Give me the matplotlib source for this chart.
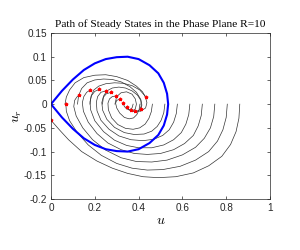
import matplotlib
matplotlib.use('Agg')
import matplotlib.pyplot as plt

plt.rcParams['mathtext.fontset'] = 'cm'

# blue loop (upper half, lower half is mirrored)
loop_u = [0, 0.05, 0.1, 0.15, 0.2, 0.25, 0.3, 0.35, 0.4, 0.45, 0.49, 0.515, 0.53, 0.535]
loop_ur = [0, 0.028, 0.052, 0.072, 0.086, 0.095, 0.099, 0.1, 0.095, 0.082, 0.065, 0.045, 0.022, 0]

# trajectories
traj = [
    ([0.862, 0.858, 0.845, 0.82, 0.78, 0.72, 0.65, 0.57, 0.49, 0.42, 0.35, 0.28, 0.21, 0.14, 0.08, 0.04, 0.0],
     [0, -0.03, -0.058, -0.085, -0.11, -0.13, -0.145, -0.153, -0.155, -0.153, -0.146, -0.135, -0.12, -0.1, -0.075, -0.055, -0.034]),
    ([0.805, 0.80, 0.785, 0.76, 0.72, 0.66, 0.59, 0.51, 0.44, 0.37, 0.30, 0.23, 0.17, 0.12, 0.085, 0.07, 0.068],
     [0, -0.028, -0.054, -0.078, -0.1, -0.118, -0.131, -0.138, -0.139, -0.135, -0.125, -0.108, -0.086, -0.06, -0.035, -0.015, 0]),
    ([0.748, 0.743, 0.728, 0.70, 0.66, 0.60, 0.53, 0.46, 0.39, 0.32, 0.25, 0.19, 0.145, 0.115, 0.104, 0.108, 0.118, 0.13],
     [0, -0.026, -0.05, -0.072, -0.091, -0.107, -0.118, -0.122, -0.121, -0.113, -0.097, -0.075, -0.05, -0.025, -0.005, 0.008, 0.015, 0.019]),
    ([0.691, 0.686, 0.672, 0.65, 0.61, 0.56, 0.50, 0.44, 0.38, 0.32, 0.26, 0.21, 0.17, 0.148, 0.143, 0.15, 0.163, 0.18],
     [0, -0.024, -0.046, -0.066, -0.083, -0.096, -0.104, -0.106, -0.104, -0.096, -0.082, -0.062, -0.038, -0.015, 0.003, 0.016, 0.025, 0.030]),
    ([0.634, 0.629, 0.616, 0.595, 0.56, 0.515, 0.46, 0.40, 0.345, 0.29, 0.24, 0.2, 0.181, 0.178, 0.185, 0.2, 0.22],
     [0, -0.022, -0.042, -0.06, -0.075, -0.086, -0.092, -0.092, -0.087, -0.076, -0.058, -0.035, -0.012, 0.005, 0.018, 0.027, 0.031]),
    ([0.577, 0.572, 0.56, 0.54, 0.51, 0.47, 0.42, 0.365, 0.31, 0.265, 0.228, 0.21, 0.207, 0.213, 0.228, 0.251],
     [0, -0.02, -0.038, -0.054, -0.066, -0.074, -0.077, -0.075, -0.067, -0.053, -0.034, -0.014, 0.004, 0.016, 0.025, 0.028]),
    ([0.52, 0.515, 0.503, 0.485, 0.46, 0.425, 0.38, 0.335, 0.29, 0.255, 0.236, 0.232, 0.238, 0.253, 0.276],
     [0, -0.018, -0.034, -0.047, -0.057, -0.063, -0.064, -0.06, -0.049, -0.032, -0.013, 0.003, 0.014, 0.022, 0.025]),
    ([0.463, 0.458, 0.447, 0.43, 0.405, 0.375, 0.34, 0.305, 0.277, 0.262, 0.26, 0.267, 0.28, 0.296],
     [0, -0.016, -0.03, -0.042, -0.05, -0.053, -0.051, -0.043, -0.029, -0.012, 0.002, 0.011, 0.016, 0.017]),
    ([0.406, 0.402, 0.392, 0.377, 0.357, 0.335, 0.314, 0.3, 0.295, 0.3, 0.313],
     [0, -0.012, -0.022, -0.029, -0.031, -0.028, -0.019, -0.008, 0.002, 0.008, 0.01]),
    ([0.375, 0.37, 0.358, 0.345, 0.335, 0.329],
     [0, -0.008, -0.012, -0.01, -0.005, 0.0015]),
    ([0.292, 0.3, 0.32, 0.345, 0.37, 0.385, 0.39, 0.385, 0.37, 0.355, 0.346],
     [0, 0.016, 0.024, 0.026, 0.021, 0.011, 0, -0.01, -0.015, -0.012, -0.0055]),
    ([0.235, 0.24, 0.255, 0.28, 0.31, 0.34, 0.37, 0.395, 0.41, 0.412, 0.403, 0.385, 0.364],
     [0, 0.017, 0.028, 0.034, 0.036, 0.034, 0.028, 0.019, 0.008, -0.004, -0.013, -0.017, -0.0127]),
    ([0.178, 0.183, 0.196, 0.218, 0.25, 0.29, 0.33, 0.37, 0.405, 0.43, 0.438, 0.432, 0.41, 0.385],
     [0, 0.017, 0.03, 0.038, 0.043, 0.045, 0.044, 0.039, 0.03, 0.017, 0.003, -0.008, -0.015, -0.0142]),
    ([0.121, 0.126, 0.14, 0.165, 0.2, 0.24, 0.28, 0.32, 0.36, 0.39, 0.41, 0.415, 0.411],
     [0, 0.018, 0.033, 0.045, 0.051, 0.053, 0.052, 0.047, 0.037, 0.025, 0.01, -0.002, -0.0106]),
    ([0.064, 0.07, 0.085, 0.11, 0.15, 0.2, 0.25, 0.3, 0.35, 0.39, 0.418, 0.432],
     [0, 0.015, 0.03, 0.045, 0.056, 0.061, 0.062, 0.058, 0.05, 0.038, 0.026, 0.0142]),
]

# end points (red)
end_u = [0.0, 0.068, 0.13, 0.18, 0.22, 0.251, 0.276, 0.296, 0.313, 0.329, 0.346, 0.364, 0.385, 0.411, 0.432]
end_ur = [-0.034, 0.0, 0.019, 0.030, 0.031, 0.028, 0.025, 0.017, 0.010, 0.0015, -0.0055, -0.0127, -0.0142, -0.0106, 0.0142]

fig = plt.figure(figsize=(3, 2.5), dpi=100)
ax = fig.add_axes([0.17, 0.204, 0.73, 0.664])

for u, ur in traj:
    ax.plot(u, ur, color='0.2', linewidth=0.5)

ax.plot(loop_u + loop_u[::-1], loop_ur + [-v for v in loop_ur[::-1]], color='b', linewidth=1.5)
ax.plot(end_u, end_ur, '*', color='r', markersize=2.5, markeredgewidth=0.8)

ax.set_xlim(0, 1)
ax.set_ylim(-0.2, 0.15)
ax.set_xticks([0, 0.2, 0.4, 0.6, 0.8, 1])
ax.set_xticklabels(['0', '0.2', '0.4', '0.6', '0.8', '1'])
ax.set_yticks([-0.2, -0.15, -0.1, -0.05, 0, 0.05, 0.1, 0.15])
ax.set_yticklabels(['-0.2', '-0.15', '-0.1', '-0.05', '0', '0.05', '0.1', '0.15'])
ax.tick_params(direction='in', length=2.5, width=0.5, labelsize=7.2, colors='0.15', pad=3,
               top=True, right=True)
for s in ax.spines.values():
    s.set_linewidth(0.5)
    s.set_color('0.15')
for lab in ax.get_xticklabels() + ax.get_yticklabels():
    lab.set_family('Liberation Sans')

ax.set_xlabel('$u$', fontsize=10, labelpad=0)
ax.set_ylabel('$u_r$', fontsize=10, labelpad=0)
ax.set_title('Path of Steady States in the Phase Plane R=10', fontsize=8.2,
             family='Liberation Serif', pad=4)

fig.savefig('out.png', dpi=100)
